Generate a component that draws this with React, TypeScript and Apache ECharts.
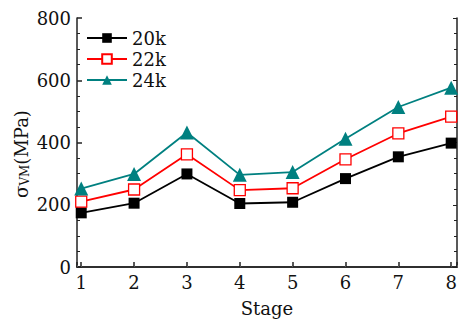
import React, { useEffect, useRef } from "react";
import * as echarts from "echarts";

const stages = [1, 2, 3, 4, 5, 6, 7, 8];
const s20k = [174, 205, 299, 204, 208, 284, 354, 398];
const s22k = [210, 249, 362, 247, 253, 346, 429, 483];
const s24k = [252, 299, 432, 296, 305, 412, 514, 576];
const seriesNames = ["20k", "22k", "24k"];
const yTicks = [0, 200, 400, 600, 800];

const FONT = "DejaVu Serif";

export default function App() {
  const ref = useRef<HTMLDivElement>(null);
  useEffect(() => {
    if (!ref.current) return;
    const chart = echarts.init(ref.current, null, { renderer: "svg" });
    const pair = (arr: number[]) => stages.map((s, i) => [s, arr[i]]);
    const axisLine = { show: true, lineStyle: { color: "#222", width: 1.5 } };
    chart.setOption({
      animation: false,
      backgroundColor: "#fff",
      textStyle: { fontFamily: FONT },
      grid: { left: 77, top: 18, right: 1, bottom: 49, containLabel: false },
      legend: {
        left: 81,
        top: 24,
        orient: "vertical",
        itemWidth: 40,
        itemHeight: 12,
        itemGap: 3,
        data: seriesNames,
        textStyle: { fontFamily: FONT, fontSize: 18, color: "#111" },
      },
      graphic: [
        {
          type: "text",
          x: 21,
          y: 154,
          rotation: Math.PI / 2,
          style: {
            text: "{a|σ}{b|VM}{a|(MPa)}",
            align: "center",
            verticalAlign: "middle",
            rich: {
              a: { fontFamily: FONT, fontSize: 18, fill: "#111" },
              b: { fontFamily: FONT, fontSize: 12, fill: "#111", verticalAlign: "bottom", padding: [7, 0, 0, 0] },
            },
          },
        },
      ],
      xAxis: [
        {
          type: "value",
          min: 0.92,
          max: 8.11,
          position: "bottom",
          axisLine,
          splitLine: { show: false },
          axisTick: { show: true, inside: true, length: 5, lineStyle: { color: "#222", width: 1.5 } },
          axisLabel: {
            fontFamily: FONT,
            fontSize: 18,
            color: "#111",
            margin: 6,
            formatter: (v: number) => (Math.abs(v - Math.round(v)) < 1e-6 ? String(Math.round(v)) : ""),
          },
          name: "Stage",
          nameLocation: "middle",
          nameGap: 32,
          nameTextStyle: { fontFamily: FONT, fontSize: 18, color: "#111" },
        },
        {
          type: "value",
          min: 0.92,
          max: 8.11,
          position: "top",
          axisLine,
          splitLine: { show: false },
          axisTick: { show: true, inside: false, length: 2, lineStyle: { color: "#555", width: 1 } },
          axisLabel: { show: false },
        },
      ],
      yAxis: [
        {
          type: "value",
          min: yTicks[0],
          max: yTicks[yTicks.length - 1],
          interval: 200,
          axisLine,
          splitLine: { show: false },
          axisTick: { show: true, inside: true, length: 5, lineStyle: { color: "#222", width: 1.5 } },
          minorTick: { show: true, splitNumber: 4, length: 3, lineStyle: { color: "#222", width: 1 } },
          axisLabel: { fontFamily: FONT, fontSize: 18, color: "#111", margin: 6 },
        },
        {
          type: "value",
          min: yTicks[0],
          max: yTicks[yTicks.length - 1],
          interval: 200,
          position: "right",
          axisLine,
          splitLine: { show: false },
          axisTick: { show: true, inside: true, length: 4, lineStyle: { color: "#222", width: 1 } },
          minorTick: { show: true, splitNumber: 4, length: 3, lineStyle: { color: "#222", width: 1 } },
          axisLabel: { show: false },
        },
      ],
      series: [
        {
          name: seriesNames[0],
          type: "line",
          data: pair(s20k),
          symbol: "rect",
          symbolSize: 11,
          color: "#000000",
          lineStyle: { width: 1.8, color: "#000" },
          itemStyle: { color: "#000" },
        },
        {
          name: seriesNames[1],
          type: "line",
          data: pair(s22k),
          symbol: "rect",
          symbolSize: 11,
          color: "#ff0000",
          lineStyle: { width: 1.8, color: "#ff0000" },
          itemStyle: { color: "#fff", borderColor: "#ff0000", borderWidth: 1.3 },
        },
        {
          name: seriesNames[2],
          type: "line",
          data: pair(s24k),
          symbol: "triangle",
          symbolSize: 14,
          color: "#008080",
          lineStyle: { width: 1.8, color: "#008080" },
          itemStyle: { color: "#008080" },
        },
      ],
    });
    return () => chart.dispose();
  }, []);
  return (
    <div
      ref={ref}
      style={{ position: "absolute", left: 0, top: 0, width: 460, height: 322 }}
    />
  );
}
